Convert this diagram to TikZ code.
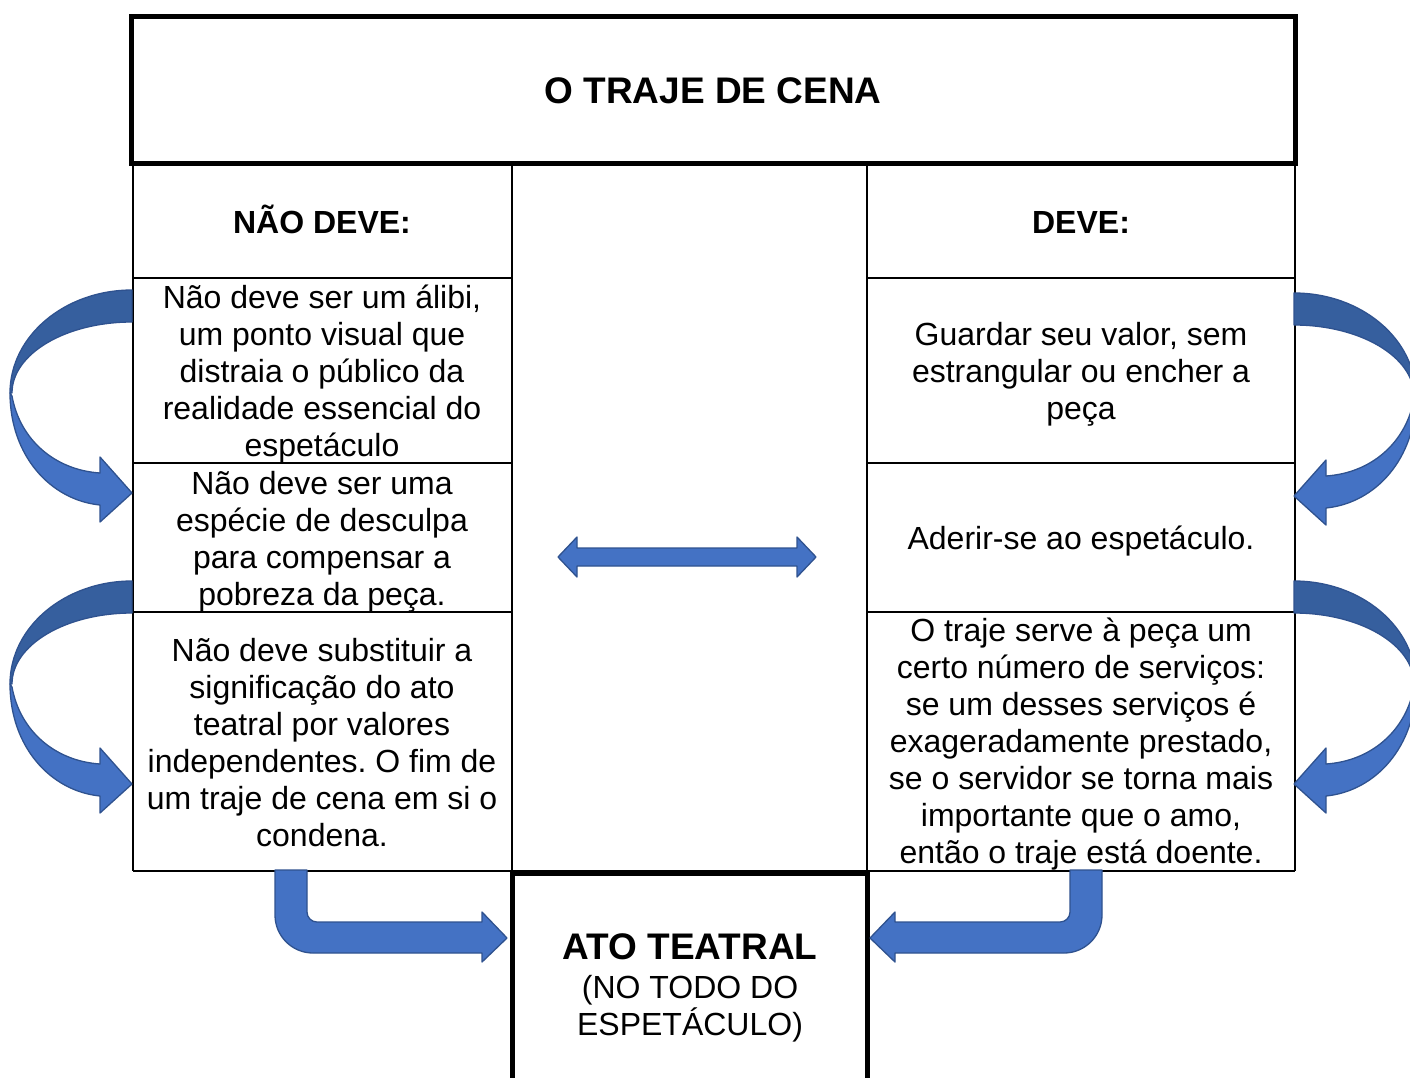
\documentclass[tikz,border=0pt]{standalone}
\usepackage{fontspec}
\setmainfont{Liberation Sans}
\frenchspacing
\definecolor{arrfill}{HTML}{4472C4}
\definecolor{arrdark}{HTML}{365F9E}
\definecolor{arrline}{HTML}{2F528F}
\begin{document}
\begin{tikzpicture}[x=1pt,y=-1pt,
  thin grid/.style={line width=2pt,black},
  thick box/.style={line width=5pt,black},
  celltext/.style={align=center,inner sep=0pt,font=\fontsize{32}{37}\selectfont},
  headtext/.style={anchor=base,align=center,inner sep=0pt,font=\fontsize{32}{37}\selectfont\bfseries},
  bigtext/.style={align=center,inner sep=0pt,font=\fontsize{37}{40}\selectfont\bfseries},
  blockarrow/.style={fill=arrfill,draw=arrline,line width=1.3pt,line join=round},
  darkband/.style={fill=arrdark,draw=arrline,line width=1.3pt,line join=round},
  curvearrow/.pic={
    \path[darkband] (0,0) .. controls (-67.4,0) and (-122,46.1) .. (-122,103)
      -- (-120,103) .. controls (-120,63.8) and (-66.3,32) .. (0,32) -- cycle;
    \path[blockarrow] (-122,103) .. controls (-122,165) and (-82,210) .. (-32,215)
      -- (-32,232) -- (0,203) -- (-32,167) -- (-32,183)
      .. controls (-77,180) and (-112,150) .. (-120,106) -- cycle;
  },
  bentarrow/.pic={
    \path[blockarrow] (0,0) -- (0,45) .. controls (0,66) and (17,83) .. (38,83)
      -- (207,83) -- (207,92) -- (232,68) -- (207,42) -- (207,52) -- (42,52)
      .. controls (36.5,52) and (32,47.5) .. (32,42) -- (32,0) -- cycle;
  }
]
\useasboundingbox (0,0) rectangle (1410,1077);
\begin{scope}
\clip (0,0) rectangle (1410,1077);

% grid
\draw[thin grid] (133,163) -- (133,871);
\draw[thin grid] (512,163) -- (512,871);
\draw[thin grid] (867,163) -- (867,871);
\draw[thin grid] (1295,163) -- (1295,871);
\foreach \yy in {278,463,612}{
  \draw[thin grid] (133,\yy) -- (512,\yy);
  \draw[thin grid] (867,\yy) -- (1295,\yy);
}
\draw[thin grid] (133,871) -- (1295,871);

% title box
\draw[thick box] (131,16) rectangle (1295,163);
\node[bigtext] (title) at (713,91) {O TRAJE DE CENA};

% headers
\node[headtext] (hdrL) at (322,233.5) {NÃO DEVE:};
\node[headtext] (hdrR) at (1081,233.5) {DEVE:};

% left cells
\node[celltext] (L1) at (322,374) {Não deve ser um álibi,\\um ponto visual que\\distraia o público da\\realidade essencial do\\espetáculo};
\node[celltext] (L2) at (322,541.5) {Não deve ser uma\\espécie de desculpa\\para compensar a\\pobreza da peça.};
\node[celltext] (L3) at (322,743) {Não deve substituir a\\significação do ato\\teatral por valores\\independentes. O fim de\\um traje de cena em si o\\condena.};

% right cells
\node[celltext] (R1) at (1081,374) {Guardar seu valor, sem\\estrangular ou encher a\\peça};
\node[celltext] (R2) at (1081,541) {Aderir-se ao espetáculo.};
\node[celltext] (R3) at (1081,744.5) {O traje serve à peça um\\certo número de serviços:\\se um desses serviços é\\exageradamente prestado,\\se o servidor se torna mais\\importante que o amo,\\então o traje está doente.};

% bottom box
\draw[thick box] (512,1085) -- (512,873) -- (867,873) -- (867,1085);
\node[bigtext,anchor=base] (ato) at (690,959) {ATO TEATRAL};
\node[celltext,anchor=base] (atosub) at (690,1035) {(NO TODO DO\\ESPETÁCULO)};

% curved arrows
\pic at (132,290) {curvearrow};
\pic at (132,581) {curvearrow};
\pic[xscale=-1] at (1294,293) {curvearrow};
\pic[xscale=-1] at (1294,581) {curvearrow};

% bent arrows
\pic at (275,870) {bentarrow};
\pic[xscale=-1] at (1102,870) {bentarrow};

% double arrow
\path[blockarrow] (558,557) -- (577,537) -- (577,548) -- (797,548) -- (797,537)
  -- (816,557) -- (797,577) -- (797,566) -- (577,566) -- (577,577) -- cycle;
\end{scope}
\end{tikzpicture}
\end{document}
